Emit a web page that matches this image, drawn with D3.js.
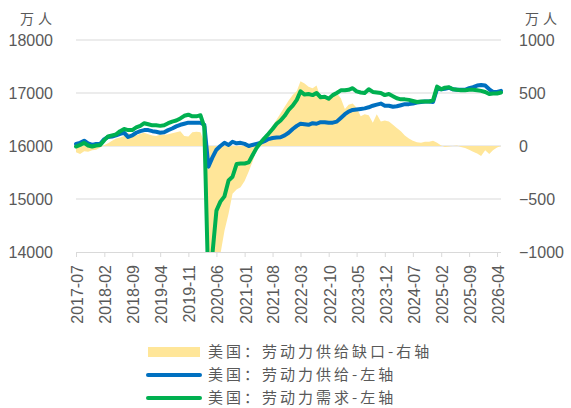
<!DOCTYPE html>
<html><head><meta charset="utf-8">
<script src="https://cdn.jsdelivr.net/npm/d3@7"></script>
<style>
html,body{margin:0;padding:0;background:#fff;}
svg{display:block;}
</style></head>
<body>
<svg id="chart" width="571" height="408"></svg>
<script>
const months = ["2017-07","2017-08","2017-09","2017-10","2017-11","2017-12",
"2018-01","2018-02","2018-03","2018-04","2018-05","2018-06","2018-07","2018-08","2018-09","2018-10","2018-11","2018-12",
"2019-01","2019-02","2019-03","2019-04","2019-05","2019-06","2019-07","2019-08","2019-09","2019-10","2019-11","2019-12",
"2020-01","2020-02","2020-03","2020-04","2020-05","2020-06","2020-07","2020-08","2020-09","2020-10","2020-11","2020-12",
"2021-01","2021-02","2021-03","2021-04","2021-05","2021-06","2021-07","2021-08","2021-09","2021-10","2021-11","2021-12",
"2022-01","2022-02","2022-03","2022-04","2022-05","2022-06","2022-07","2022-08","2022-09","2022-10","2022-11","2022-12",
"2023-01","2023-02","2023-03","2023-04","2023-05","2023-06","2023-07","2023-08","2023-09","2023-10","2023-11","2023-12",
"2024-01","2024-02","2024-03","2024-04","2024-05","2024-06","2024-07","2024-08","2024-09","2024-10","2024-11","2024-12",
"2025-01","2025-02","2025-03","2025-04","2025-05","2025-06","2025-07","2025-08","2025-09","2025-10","2025-11","2025-12",
"2026-01","2026-02","2026-03","2026-04","2026-05"];

const supply = [16040,16060,16100,16050,16020,16040,16040,16130,16170,16180,
16200,16230,16250,16170,16200,16250,16280,16300,16300,16280,
16270,16250,16260,16300,16330,16370,16400,16420,16440,16440,
16440,16440,16400,15610,15780,15930,16000,16060,16020,16080,
16050,16060,16040,16000,16020,16040,16060,16090,16130,16150,
16160,16165,16200,16250,16320,16380,16420,16410,16400,16430,
16420,16450,16450,16440,16440,16460,16530,16600,16650,16680,
16690,16700,16710,16730,16760,16780,16800,16760,16760,16740,
16750,16770,16790,16790,16800,16820,16830,16840,16840,16830,
17080,17070,17080,17100,17070,17060,17060,17060,17090,17110,
17140,17150,17140,17070,17020,17020,17040];

const demand = [15990,16020,16060,16010,15990,16010,16020,16110,16180,16200,
16220,16280,16320,16300,16300,16350,16380,16430,16410,16390,
16390,16380,16390,16430,16460,16480,16520,16570,16590,16560,
16560,16580,16360,13300,13950,14780,14950,15050,15350,15420,
15660,15670,15670,15690,15820,15960,16060,16150,16230,16320,
16420,16480,16570,16680,16760,16870,17030,16970,16980,16960,
17000,16920,16930,16890,16960,17000,17050,17050,17060,17090,
17030,17010,17000,17070,17020,17010,17000,16960,16980,16940,
16900,16880,16880,16870,16850,16830,16840,16840,16840,16860,
17120,17070,17100,17110,17070,17060,17050,17050,17060,17060,
17050,17040,17020,16980,16990,16990,17010];

const gap = [-60,-75,-50,-55,-40,-35,-15,10,25,50,
70,80,95,125,100,100,115,125,110,100,
95,105,105,110,120,130,140,95,90,130,
135,130,30,-2300,-1850,-1150,-1020,-800,-640,-450,
-410,-390,-330,-240,-150,-40,30,70,140,190,
250,310,370,430,480,520,610,590,560,545,
570,450,470,430,470,500,450,350,390,400,
360,280,300,290,220,300,230,240,230,200,
170,140,100,70,50,35,30,40,40,50,
30,5,-10,-5,0,5,-10,-20,-35,-55,
-70,-95,-40,-75,-40,-15,0];

const xTickLabels = ["2017-07","2018-02","2018-09","2019-04","2019-11","2020-06","2021-01","2021-08",
"2022-03","2022-10","2023-05","2023-12","2024-07","2025-02","2025-09","2026-04"];
const leftTicks = [14000,15000,16000,17000,18000];
const rightTicks = [-1000,-500,0,500,1000];
const unitLabel = "万人";
const seriesNames = ["美国：劳动力供给缺口-右轴","美国：劳动力供给-左轴","美国：劳动力需求-左轴"];
const colors = {gap:"#FFE699", supply:"#0070C0", demand:"#00B050"};

const parse = d3.timeParse("%Y-%m");
const dates = months.map(parse);

const svg = d3.select("#chart");
const L = 76, R = 501, T = 40, B = 252;

const x = d3.scaleTime().domain([parse("2017-07"), parse("2026-05")]).range([L, R]);
const yL = d3.scaleLinear().domain([14000, 18000]).range([B, T]);
const yR = d3.scaleLinear().domain([-1000, 1000]).range([B, T]);

svg.append("defs").append("clipPath").attr("id","plotclip")
  .append("rect").attr("x", L - 5).attr("y", T).attr("width", R - L + 10).attr("height", B - T);

// gridlines
svg.append("g").selectAll("line").data(leftTicks.filter(d => d !== 14000)).join("line")
  .attr("x1", L).attr("x2", R)
  .attr("y1", d => yL(d)).attr("y2", d => yL(d))
  .attr("stroke", "#d9d9d9").attr("stroke-width", 1);

const fontNum = "'Liberation Sans', Arial, sans-serif";
const fontCJK = "'Noto Sans CJK SC', sans-serif";

// left axis
const gl = svg.append("g").attr("transform", `translate(${L},0)`)
  .call(d3.axisLeft(yL).tickValues(leftTicks).tickSize(0).tickPadding(23).tickFormat(d3.format("d")));
gl.select(".domain").remove();
gl.selectAll("text").attr("font-family", fontNum).attr("font-size", 16).attr("fill", "#595959");

// right axis
const gr = svg.append("g").attr("transform", `translate(${R},0)`)
  .call(d3.axisRight(yR).tickValues(rightTicks).tickSize(0).tickPadding(18).tickFormat(d3.format("d")));
gr.select(".domain").remove();
gr.selectAll("text").attr("font-family", fontNum).attr("font-size", 16).attr("fill", "#595959");

// units
svg.append("text").attr("x", 20).attr("y", 24).text(unitLabel)
  .attr("font-family", fontCJK).attr("font-size", 14).attr("letter-spacing", 4).attr("fill", "#595959");
svg.append("text").attr("x", 525).attr("y", 24).text(unitLabel)
  .attr("font-family", fontCJK).attr("font-size", 14).attr("letter-spacing", 4).attr("fill", "#595959");

const plot = svg.append("g").attr("clip-path", "url(#plotclip)");

// gap area
const area = d3.area().x((d, i) => x(dates[i])).y0(yR(0)).y1(d => yR(d));
plot.append("path").datum(gap).attr("d", area).attr("fill", colors.gap);

const lineL = d3.line().x((d, i) => x(dates[i])).y(d => yL(d)).curve(d3.curveLinear);
plot.append("path").datum(supply).attr("d", lineL).attr("fill", "none")
  .attr("stroke", colors.supply).attr("stroke-width", 4).attr("stroke-linejoin", "round").attr("stroke-linecap","round");
plot.append("path").datum(demand).attr("d", lineL).attr("fill", "none")
  .attr("stroke", colors.demand).attr("stroke-width", 4).attr("stroke-linejoin", "round").attr("stroke-linecap","round");

// x axis
const gx = svg.append("g").attr("transform", `translate(0,${B})`)
  .call(d3.axisBottom(x).tickValues(xTickLabels.map(parse)).tickSize(5).tickSizeOuter(0).tickFormat(d3.timeFormat("%Y-%m")));
gx.select(".domain").attr("stroke", "#d9d9d9").attr("d", `M${L},0.5H${R}`);
gx.selectAll(".tick line").attr("stroke", "#d9d9d9");
gx.selectAll("text")
  .attr("font-family", fontNum).attr("font-size", 16).attr("fill", "#595959")
  .attr("transform", "rotate(-90)")
  .attr("text-anchor", "end")
  .attr("x", -13).attr("y", 0).attr("dy", "0.4em").attr("dx", 0);

// legend
const lg = svg.append("g");
const rowsY = [352, 375, 398];
lg.append("rect").attr("x", 148).attr("y", rowsY[0] - 5).attr("width", 52).attr("height", 10).attr("fill", colors.gap);
lg.append("line").attr("x1", 148).attr("x2", 200).attr("y1", rowsY[1]).attr("y2", rowsY[1])
  .attr("stroke", colors.supply).attr("stroke-width", 4).attr("stroke-linecap","round");
lg.append("line").attr("x1", 148).attr("x2", 200).attr("y1", rowsY[2]).attr("y2", rowsY[2])
  .attr("stroke", colors.demand).attr("stroke-width", 4).attr("stroke-linecap","round");
lg.selectAll("text.leg").data(seriesNames).join("text").attr("class","leg")
  .attr("x", 208).attr("y", (d, i) => rowsY[i]).attr("dy", "0.36em")
  .text(d => d)
  .attr("font-family", fontCJK).attr("font-size", 15).attr("letter-spacing", 3).attr("fill", "#595959");
</script>
</body></html>
